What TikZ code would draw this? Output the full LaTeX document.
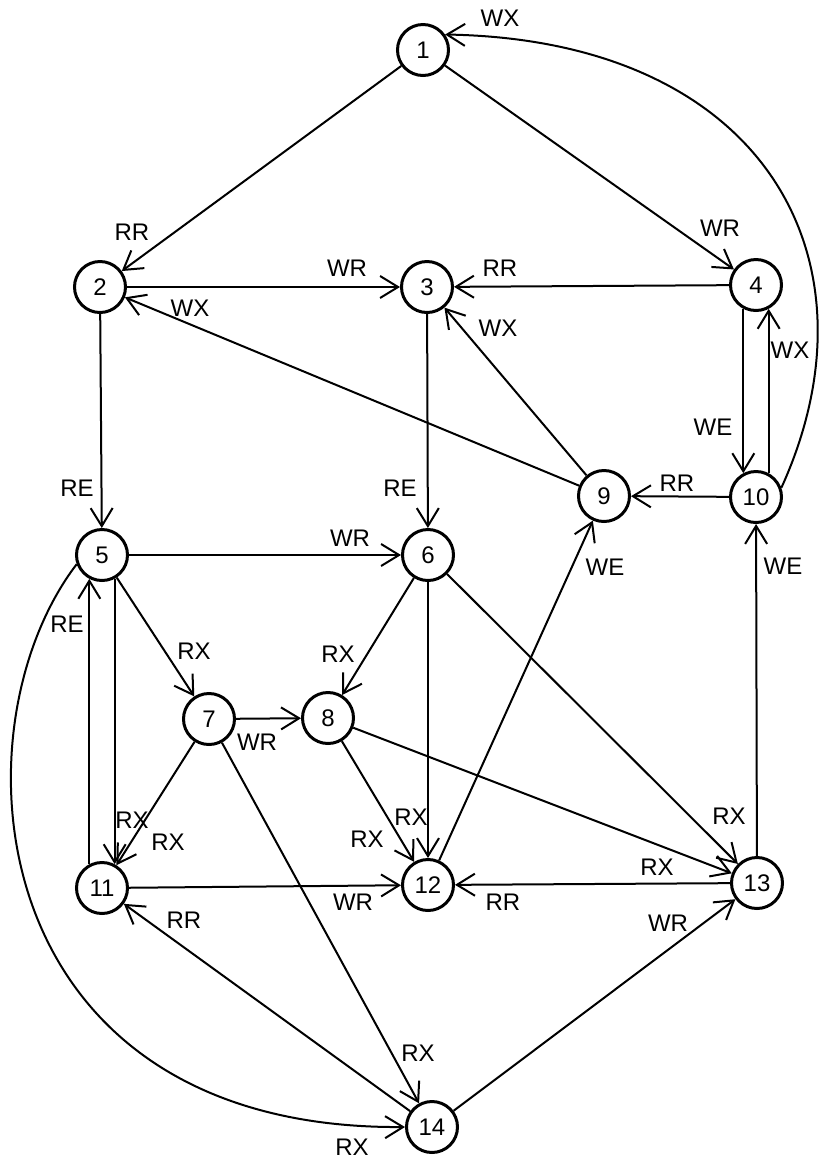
\documentclass[tikz,border=0pt]{standalone}
\usepackage{fontspec}
\setmainfont{Liberation Sans}
\usetikzlibrary{arrows.meta}

\begin{document}
\begin{tikzpicture}[x=0.5pt,y=-0.5pt,
    vertex/.style={circle,draw,line width=1.5pt,minimum size=25.5pt,inner sep=0pt,font=\fontsize{12}{14}\selectfont},
    lbl/.style={font=\fontsize{12}{14}\selectfont,inner sep=0pt},
    edge/.style={line width=1pt,-{Straight Barb[length=9pt,width=11pt]}}]
    \useasboundingbox (0,0) rectangle (819,1164);

    % States
    \node[vertex] (n1) at (423,50) {1};
    \node[vertex] (n2) at (100,287) {2};
    \node[vertex] (n3) at (427,287) {3};
    \node[vertex] (n4) at (756,285) {4};
    \node[vertex] (n5) at (102,555) {5};
    \node[vertex] (n6) at (428,555) {6};
    \node[vertex] (n7) at (209,719) {7};
    \node[vertex] (n8) at (328,718) {8};
    \node[vertex] (n9) at (604,496) {9};
    \node[vertex] (n10) at (756,497) {10};
    \node[vertex] (n11) at (102,888) {11};
    \node[vertex] (n12) at (428,885) {12};
    \node[vertex] (n13) at (757,883) {13};
    \node[vertex] (n14) at (432,1127) {14};

    % Straight transitions
    \draw[edge] (n1) -- (n2);
    \draw[edge] (n1) -- (n4);
    \draw[edge] (n2) -- (n3);
    \draw[edge] (n4) -- (n3);
    \draw[edge] (n9) -- (n2);
    \draw[edge] (n9) -- (n3);
    \draw[edge] (n2) -- (n5);
    \draw[edge] (n3) -- (n6);
    \draw[edge] (n10) -- (n9);
    \draw[edge] (n12) -- (n9);
    \draw[edge] (n13) -- (n10);
    \draw[edge] (n5) -- (n6);
    \draw[edge] (n5) -- (n7);
    \draw[edge] (n7) -- (n11);
    \draw[edge] (n6) -- (n8);
    \draw[edge] (n7) -- (n8);
    \draw[edge] (n6) -- (n12);
    \draw[edge] (n8) -- (n12);
    \draw[edge] (n6) -- (n13);
    \draw[edge] (n8) -- (n13);
    \draw[edge] (n11) -- (n12);
    \draw[edge] (n13) -- (n12);
    \draw[edge] (n14) -- (n11);
    \draw[edge] (n7) -- (n14);
    \draw[edge] (n14) -- (n13);

    % Paired transitions
    \draw[edge] (n11.118) -- (n5.242);
    \draw[edge] (n5.298) -- (n11.62);
    \draw[edge] (n4.242) -- (n10.118);
    \draw[edge] (n10.62) -- (n4.298);

    % Curved transitions
    \draw[edge] (n10.20) .. controls (885,260) and (765,40) .. (n1.35);
    \draw[edge] (n5.200) .. controls (-50,730) and (-20,1130) .. (n14.180);

    % Labels
    \node[lbl] at (500,18) {WX};
    \node[lbl] at (132,232) {RR};
    \node[lbl] at (720,228) {WR};
    \node[lbl] at (347,268) {WR};
    \node[lbl] at (500,268) {RR};
    \node[lbl] at (190,308) {WX};
    \node[lbl] at (498,328) {WX};
    \node[lbl] at (790,350) {WX};
    \node[lbl] at (713,427) {WE};
    \node[lbl] at (677,483) {RR};
    \node[lbl] at (77,488) {RE};
    \node[lbl] at (400,488) {RE};
    \node[lbl] at (350,538) {WR};
    \node[lbl] at (605,567) {WE};
    \node[lbl] at (783,566) {WE};
    \node[lbl] at (67,624) {RE};
    \node[lbl] at (194,651) {RX};
    \node[lbl] at (338,654) {RX};
    \node[lbl] at (257,742) {WR};
    \node[lbl] at (132,820) {RX};
    \node[lbl] at (168,842) {RX};
    \node[lbl] at (411,817) {RX};
    \node[lbl] at (367,839) {RX};
    \node[lbl] at (729,816) {RX};
    \node[lbl] at (657,867) {RX};
    \node[lbl] at (353,902) {WR};
    \node[lbl] at (503,902) {RR};
    \node[lbl] at (184,920) {RR};
    \node[lbl] at (668,923) {WR};
    \node[lbl] at (418,1053) {RX};
    \node[lbl] at (352,1147) {RX};
\end{tikzpicture}
\end{document}
